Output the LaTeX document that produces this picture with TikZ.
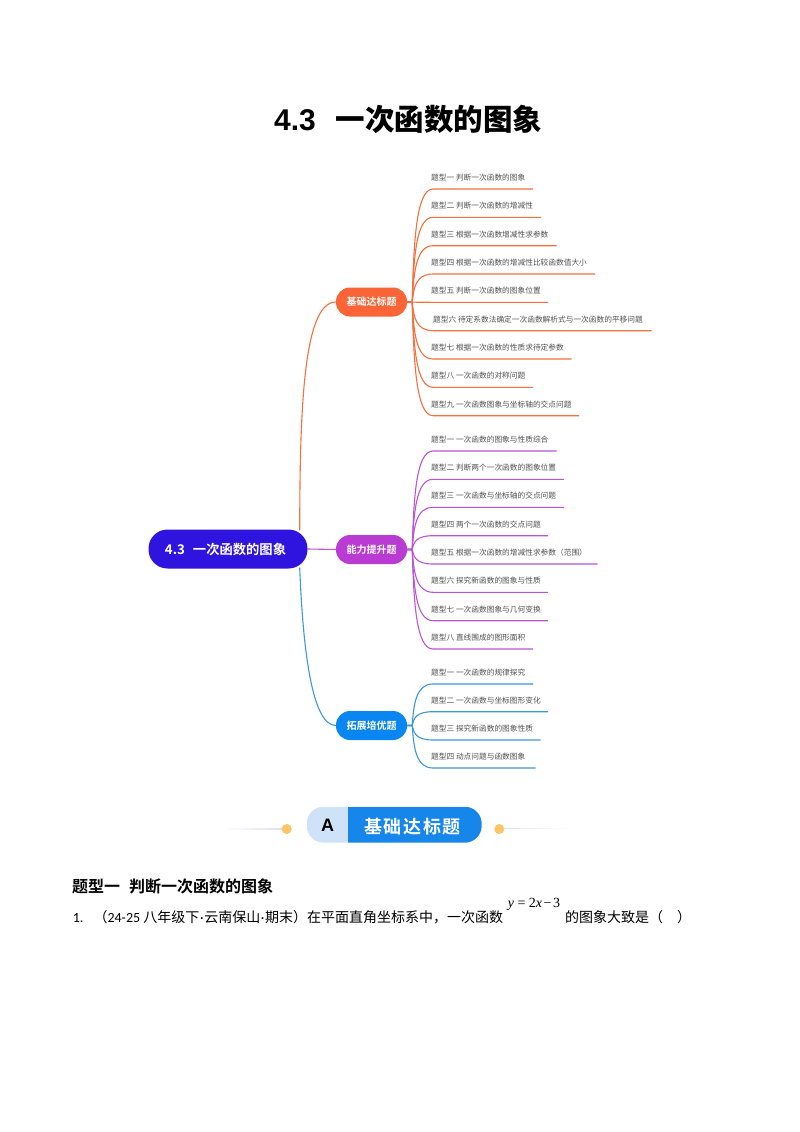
\documentclass[tikz,border=0pt]{standalone}
\usepackage{fontspec}
\setmainfont{Liberation Sans}
\newfontfamily\cjk{Noto Sans CJK SC}
\newfontfamily\cjkb{Noto Sans CJK SC Bold}
\newfontfamily\tnr{Liberation Serif}
\newfontfamily\cbr{Carlito}
\definecolor{cOrange}{HTML}{F4703C}
\definecolor{cOrangeN}{HTML}{FB6436}
\definecolor{cPurple}{HTML}{B956D6}
\definecolor{cPurpleN}{HTML}{B93BD3}
\definecolor{cBlue}{HTML}{3C97DF}
\definecolor{cBlueN}{HTML}{0A86F2}
\definecolor{cRoot}{HTML}{2F13DE}
\definecolor{cBanner}{HTML}{1786EA}
\definecolor{cBannerL}{HTML}{CFE3F8}
\definecolor{cDot}{HTML}{FCC565}
\definecolor{cFade}{HTML}{DCDCF4}
\usetikzlibrary{calc}
\tikzset{
  topic/.style={rounded corners=14pt,minimum width=71pt,minimum height=29pt,inner sep=0pt,text=white,font=\cjkb\fontsize{10}{12}\selectfont},
  rootbox/.style={rounded corners=19pt,fill=cRoot,minimum width=159pt,minimum height=39pt,inner sep=0pt,text=white,font=\cjkb\fontsize{13.3}{15}\selectfont},
  item/.style={anchor=west,inner sep=0pt,text=black!68,font=\cjk\fontsize{7.7}{9}\selectfont},
  link/.style={line width=1.1pt},
  dot/.style={circle,fill=cDot,minimum size=10pt,inner sep=0pt},
  bodytext/.style={anchor=west,inner sep=0pt,text=black,font=\cjk\fontsize{14}{16}\selectfont},
}
\newcommand{\branchset}[4]{% prefix, colour, topic node, list
  \foreach \i/\yy/\ex/\tx/\lab in {#4}{
    \node[item] (#1t\i) at (\tx,\yy-11.5) {\lab};
    \coordinate (#1s\i) at (433,\yy);
    \coordinate (#1e\i) at (\ex,\yy);
    \path (#3.east) ++(5,0) coordinate (#1h);
    \draw[link,#2] (#3.east) -- (#1h) .. controls ($(#1h)!0.5!(#1h|-#1s\i)+(1.5,0)$) and ($(#1h|-#1s\i)+(3.5,0)$) .. (#1s\i) -- (#1e\i);
  }
}
\begin{document}
\begin{tikzpicture}[x=1pt,y=-1pt]
\useasboundingbox[fill=white] (0,0) rectangle (800,1132);
% title
\node[inner sep=0pt,anchor=west] (title) at (274,119) {\fontsize{30}{34}\selectfont\bfseries 4.3\hspace{20pt}{\cjkb\fontsize{29.5}{34}\selectfont 一次函数的图象}};
% nodes
\node[rootbox] (root) at (228,549) {4.3\hspace{8pt}一次函数的图象\hspace{5pt}\mbox{}};
\node[topic,fill=cOrangeN] (orange) at (371.5,302) {基础达标题};
\node[topic,fill=cPurpleN] (purple) at (371.5,549.5) {能力提升题};
\node[topic,fill=cBlueN] (blue) at (371.5,725.5) {拓展培优题};
% main links
\draw[link,cOrange] (root.north east) ++(-8,1) .. controls (300,420) and (302,302) .. (orange.west);
\draw[link,cPurple] (root.east) -- (purple.west);
\draw[link,cBlue] (root.south east) ++(-8,-1) .. controls (303,650) and (312,725.5) .. (blue.west);
% branches
\branchset{a}{cOrange}{orange}{
1/189/533/431/题型一 判断一次函数的图象,
2/217.3/541/431/题型二 判断一次函数的增减性,
3/245.7/556.7/431/题型三 根据一次函数增减性求参数,
4/274/595/431/题型四 根据一次函数的增减性比较函数值大小,
5/302.3/548/431/题型五 判断一次函数的图象位置,
6/330.7/651.7/433/题型六 待定系数法确定一次函数解析式与一次函数的平移问题,
7/359/571.7/431/题型七 根据一次函数的性质求待定参数,
8/387.3/533/431/题型八 一次函数的对称问题,
9/415.7/579/431/题型九 一次函数图象与坐标轴的交点问题}
\branchset{b}{cPurple}{purple}{
1/451/556.7/431/题型一 一次函数的图象与性质综合,
2/479.3/564/431/题型二 判断两个一次函数的图象位置,
3/507.3/564/431/题型三 一次函数与坐标轴的交点问题,
4/535.7/548/431/题型四 两个一次函数的交点问题,
5/564/597.7/431/题型五 根据一次函数的增减性求参数（范围）,
6/592.3/548/431/题型六 探究新函数的图象与性质,
7/620.7/548/431/题型七 一次函数图象与几何变换,
8/649/533/431/题型八 直线围成的图形面积}
\branchset{c}{cBlue}{blue}{
1/684/533/431/题型一 一次函数的规律探究,
2/711.7/548/431/题型二 一次函数与坐标图形变化,
3/740/540.7/431/题型三 探究新函数的图象性质,
4/768/535.7/431/题型四 动点问题与函数图象}
% banner
\begin{scope}
\clip[rounded corners=17pt] (306.7,806.7) rectangle (481.7,842.7);
\fill[cBannerL] (306.7,806.7) rectangle (348.3,842.7);
\fill[cBanner] (348.3,806.7) rectangle (481.7,842.7);
\end{scope}
\node[font=\bfseries\fontsize{18}{20}\selectfont,text=black,inner sep=0pt] (bannerA) at (327.5,825.5) {A};
\node[font=\cjkb\fontsize{18}{20}\selectfont,text=white,inner sep=0pt] (bannerT) at (412.5,826.5) {基\hspace{1.6pt}础\hspace{1.6pt}达\hspace{1.6pt}标\hspace{1.6pt}题};
\coordinate (fadeL) at (224,828.5);
\coordinate (fadeR) at (568,828.5);
\coordinate (dotLc) at (286.7,829);
\coordinate (dotRc) at (499.3,829);
\shade[left color=white,right color=cFade] (fadeL) ++(0,-0.5) rectangle (dotLc);
\shade[left color=cFade,right color=white] (dotRc) ++(0,-1) rectangle (fadeR);
\node[dot] (dotL) at (dotLc) {};
\node[dot] (dotR) at (dotRc) {};
% body text
\node[anchor=west,inner sep=0pt,text=black,font=\cjkb\fontsize{16}{18}\selectfont] (head) at (72,886) {题型一\hspace{9pt}判断一次函数的图象};
\node[bodytext] (q) at (72.7,917.5) {{\cbr 1.}\hspace{10pt}（{\cbr 24-25} 八年级下\hspace{0.7pt}{\cbr ·}\hspace{0.7pt}云南保山\hspace{0.7pt}{\cbr ·}\hspace{0.7pt}期末）在平面直角坐标系中，一次函数};
\node[inner sep=0pt,font=\tnr\fontsize{14}{17}\selectfont] (f) at (534,904) {\textit{y} = 2\textit{x}\hspace{1.6pt}−\hspace{1.6pt}3};
\node[bodytext] (q2) at (565,917.5) {的图象大致是（\hspace{14pt}）};
\end{tikzpicture}
\end{document}
